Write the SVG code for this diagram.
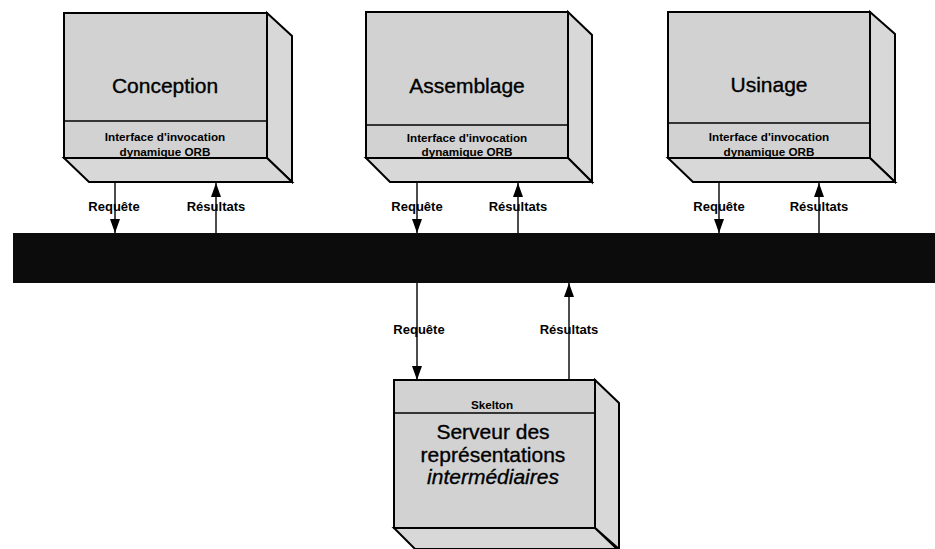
<svg xmlns="http://www.w3.org/2000/svg" width="935" height="549" viewBox="0 0 935 549">
  <style>
    .face { fill: #d2d2d2; stroke: #000; stroke-width: 2; stroke-linejoin: miter; }
    .side { fill: #d8d8d8; stroke: #000; stroke-width: 2; stroke-linejoin: miter; }
    .div { stroke: #000; stroke-width: 1.5; }
    .title { font-family: "Liberation Sans", Arial, sans-serif; font-size: 21px; fill: #000; stroke: #000; stroke-width: 0.35; text-anchor: middle; }
    .iface { font-family: "Liberation Sans", Arial, sans-serif; font-size: 11.7px; font-weight: bold; fill: #000; text-anchor: middle; }
    .lbl { font-family: "Liberation Sans", Arial, sans-serif; font-size: 13px; font-weight: bold; fill: #000; text-anchor: middle; }
    .wire { stroke: #000; stroke-width: 1.4; fill: none; marker-end: url(#head); }
  </style>
  <defs>
    <marker id="head" viewBox="0 0 14 10" refX="14" refY="5" markerWidth="14" markerHeight="10" markerUnits="userSpaceOnUse" orient="auto">
      <path d="M0,0 L14,5 L0,10 z" fill="#000"/>
    </marker>
  </defs>

  <rect width="935" height="549" fill="#fff"/>

  <!-- ORB bus -->
  <g id="bus">
    <rect x="13" y="233" width="922" height="50" fill="#0c0c0c"/>
  </g>

  <!-- Conception -->
  <g id="conception">
    <polygon class="side" points="267,13 292,36 292,182 267,158"/>
    <polygon class="side" points="64,158 267,158 292,182 89,182"/>
    <rect class="face" x="64" y="13" width="203" height="145"/>
    <line class="div" x1="64" y1="121" x2="267" y2="121"/>
    <text class="title" x="165" y="93">Conception</text>
    <text class="iface" x="165" y="141">Interface d'invocation</text>
    <text class="iface" x="165" y="156">dynamique ORB</text>
  </g>

  <!-- Assemblage -->
  <g id="assemblage">
    <polygon class="side" points="568,12 592,35 592,182 568,158"/>
    <polygon class="side" points="366,158 568,158 592,182 390,182"/>
    <rect class="face" x="366" y="12" width="202" height="146"/>
    <line class="div" x1="366" y1="125" x2="568" y2="125"/>
    <text class="title" x="467" y="93">Assemblage</text>
    <text class="iface" x="467" y="142">Interface d'invocation</text>
    <text class="iface" x="467" y="156">dynamique ORB</text>
  </g>

  <!-- Usinage -->
  <g id="usinage">
    <polygon class="side" points="870,12 895,34 895,182 870,158"/>
    <polygon class="side" points="668,158 870,158 895,182 693,182"/>
    <rect class="face" x="668" y="12" width="202" height="146"/>
    <line class="div" x1="668" y1="123" x2="870" y2="123"/>
    <text class="title" x="769" y="92">Usinage</text>
    <text class="iface" x="769" y="141">Interface d'invocation</text>
    <text class="iface" x="769" y="156">dynamique ORB</text>
  </g>

  <!-- Intermediate representation server -->
  <g id="serveur">
    <polygon class="side" points="595,380 619,403 619,549 595,528"/>
    <polygon class="side" points="394,528 595,528 617,549 415,549"/>
    <rect class="face" x="394" y="380" width="201" height="148"/>
    <line class="div" x1="394" y1="413" x2="595" y2="413"/>
    <text class="iface" x="492" y="409" font-size="12px">Skelton</text>
    <text class="title" x="493" y="439" font-size="20px">Serveur des</text>
    <text class="title" x="493" y="462" font-size="20px">représentations</text>
    <text class="title" x="493" y="484" font-size="20px" font-style="italic">intermédiaires</text>
  </g>

  <!-- Requests and results between the clients, the bus and the server -->
  <g id="connectors">
    <line class="wire" x1="115" y1="183" x2="115" y2="233"/>
    <line class="wire" x1="216" y1="233" x2="216" y2="183"/>
    <line class="wire" x1="417" y1="183" x2="417" y2="233"/>
    <line class="wire" x1="518" y1="233" x2="518" y2="183"/>
    <line class="wire" x1="719" y1="183" x2="719" y2="233"/>
    <line class="wire" x1="819" y1="233" x2="819" y2="183"/>
    <line class="wire" x1="417" y1="283" x2="417" y2="380"/>
    <line class="wire" x1="569" y1="380" x2="569" y2="283"/>

    <text class="lbl" x="114" y="211">Requête</text>
    <text class="lbl" x="216" y="211">Résultats</text>
    <text class="lbl" x="417" y="211">Requête</text>
    <text class="lbl" x="518" y="211">Résultats</text>
    <text class="lbl" x="719" y="211">Requête</text>
    <text class="lbl" x="819" y="211">Résultats</text>
    <text class="lbl" x="419" y="334">Requête</text>
    <text class="lbl" x="569" y="334">Résultats</text>
  </g>
</svg>
